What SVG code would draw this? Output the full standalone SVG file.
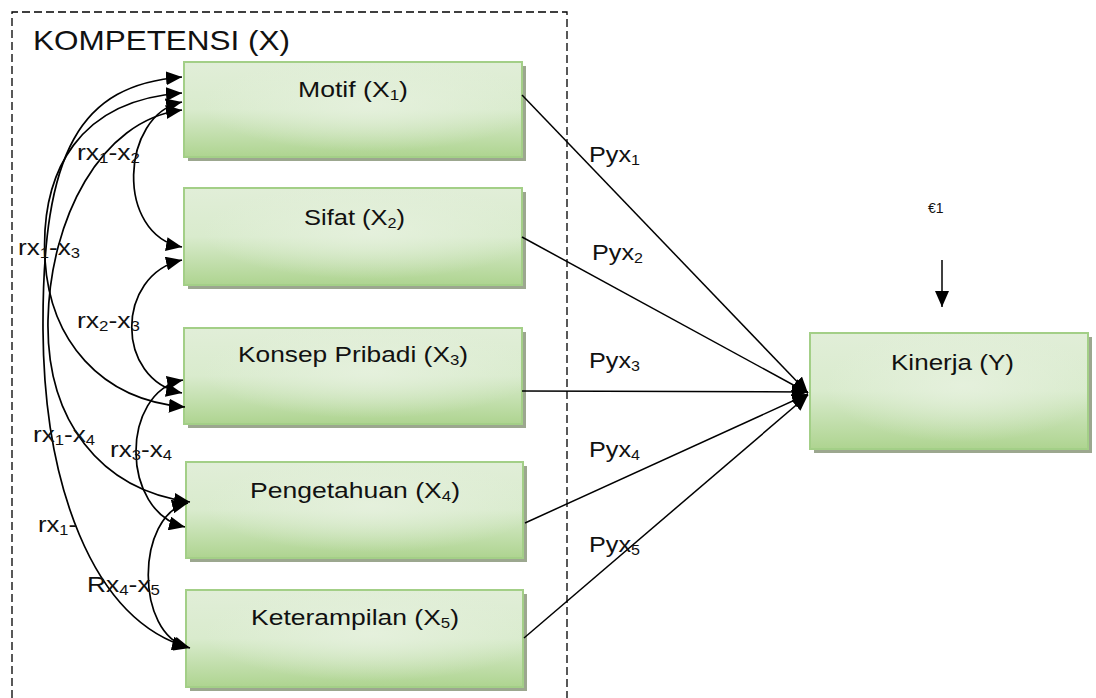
<svg xmlns="http://www.w3.org/2000/svg" width="1096" height="698" viewBox="0 0 1096 698">
<defs>
<linearGradient id="g1" x1="0" y1="0" x2="0" y2="1">
<stop offset="0" stop-color="#e1eed8"/>
<stop offset="0.5" stop-color="#d9ebcd"/>
<stop offset="1" stop-color="#aed490"/>
</linearGradient>
<radialGradient id="g2" cx="0.55" cy="0.45" r="0.5">
<stop offset="0" stop-color="#e6f1de" stop-opacity="0.9"/>
<stop offset="1" stop-color="#e6f1de" stop-opacity="0"/>
</radialGradient>
<marker id="ah" markerUnits="userSpaceOnUse" markerWidth="17" markerHeight="14" refX="16" refY="7" orient="auto-start-reverse">
<path d="M0,0 L16,7 L0,14 z" fill="#000"/>
</marker>
<style>
.sh{fill:#9ca78f}
.bx{fill:url(#g1);stroke:#a3cf87;stroke-width:2}
.hl{fill:url(#g2)}
.t{font-family:"Liberation Sans",Arial,sans-serif;font-size:22px;fill:#111}
.s{font-size:14px}
.c{fill:none;stroke:#000;stroke-width:1.7;marker-start:url(#ah);marker-end:url(#ah)}
.p{fill:none;stroke:#000;stroke-width:1.5;marker-end:url(#ah)}
</style>
</defs>
<rect width="1096" height="698" fill="#fff"/>
<path d="M12,698 V12 H567 V698" fill="none" stroke="#000" stroke-width="1.3" stroke-dasharray="8,4"/>
<text class="t" x="33" y="50" style="font-size:28px" textLength="257" lengthAdjust="spacingAndGlyphs">KOMPETENSI (X)</text>

<g id="x1">
<rect class="sh" x="188" y="66" width="338" height="95"/>
<rect class="bx" x="184" y="62" width="338" height="95"/>
<rect class="hl" x="185" y="63" width="336" height="93"/>
<text class="t" x="298" y="97" textLength="110" lengthAdjust="spacingAndGlyphs">Motif (X<tspan class="s" dy="3">1</tspan><tspan dy="-3">)</tspan></text>
</g>
<g id="x2">
<rect class="sh" x="188" y="192" width="338" height="97"/>
<rect class="bx" x="184" y="188" width="338" height="97"/>
<rect class="hl" x="185" y="189" width="336" height="95"/>
<text class="t" x="304" y="225" textLength="101" lengthAdjust="spacingAndGlyphs">Sifat (X<tspan class="s" dy="3">2</tspan><tspan dy="-3">)</tspan></text>
</g>
<g id="x3">
<rect class="sh" x="188" y="332" width="338" height="96"/>
<rect class="bx" x="184" y="328" width="338" height="96"/>
<rect class="hl" x="185" y="329" width="336" height="94"/>
<text class="t" x="238" y="362" textLength="230" lengthAdjust="spacingAndGlyphs">Konsep Pribadi (X<tspan class="s" dy="3">3</tspan><tspan dy="-3">)</tspan></text>
</g>
<g id="x4">
<rect class="sh" x="190" y="466" width="337" height="96"/>
<rect class="bx" x="186" y="462" width="337" height="96"/>
<rect class="hl" x="187" y="463" width="335" height="94"/>
<text class="t" x="250" y="498" textLength="210" lengthAdjust="spacingAndGlyphs">Pengetahuan (X<tspan class="s" dy="3">4</tspan><tspan dy="-3">)</tspan></text>
</g>
<g id="x5">
<rect class="sh" x="190" y="594" width="337" height="97"/>
<rect class="bx" x="186" y="590" width="337" height="97"/>
<rect class="hl" x="187" y="591" width="335" height="95"/>
<text class="t" x="251" y="625" textLength="208" lengthAdjust="spacingAndGlyphs">Keterampilan (X<tspan class="s" dy="3">5</tspan><tspan dy="-3">)</tspan></text>
</g>
<g id="y">
<rect class="sh" x="814" y="337" width="278" height="116"/>
<rect class="bx" x="810" y="333" width="278" height="116"/>
<rect class="hl" x="811" y="334" width="276" height="114"/>
<text class="t" x="891" y="370" textLength="123" lengthAdjust="spacingAndGlyphs">Kinerja (Y)</text>
</g>
<g id="e1">
<text class="t" x="928" y="213" style="font-size:14px">€1</text>
</g>

<g id="connectors">
<path class="c" d="M182,102 C120,115 115,235 182,247"/>
<path class="c" d="M182,260 C115,275 115,380 182,393"/>
<path class="c" d="M183,380 C120,392 120,512 185,527"/>
<path class="c" d="M188,503 C135,515 135,635 188,647"/>
<path class="c" d="M182,93 C80,100 40,170 45,260 C50,340 100,400 185,407"/>
<path class="c" d="M182,110 C100,120 50,220 48,320 C46,420 100,490 190,502"/>
<path class="c" d="M182,77 C80,85 42,150 43,330 C44,480 90,620 190,648"/>
<path class="p" d="M522,95 L808,393"/>
<path class="p" d="M522,237 L808,393"/>
<path class="p" d="M522,391 L808,392"/>
<path class="p" d="M525,523 L808,394"/>
<path class="p" d="M524,638 L808,395"/>
<path class="p" d="M942,260 L942,307"/>
</g>

<g id="labels">
<text class="t" x="77" y="160" textLength="63" lengthAdjust="spacingAndGlyphs">rx<tspan class="s" dy="3">1</tspan><tspan dy="-3">-x</tspan><tspan class="s" dy="3">2</tspan></text>
<text class="t" x="18" y="255" textLength="62" lengthAdjust="spacingAndGlyphs">rx<tspan class="s" dy="3">1</tspan><tspan dy="-3">-x</tspan><tspan class="s" dy="3">3</tspan></text>
<text class="t" x="77" y="328" textLength="63" lengthAdjust="spacingAndGlyphs">rx<tspan class="s" dy="3">2</tspan><tspan dy="-3">-x</tspan><tspan class="s" dy="3">3</tspan></text>
<text class="t" x="33" y="442" textLength="62" lengthAdjust="spacingAndGlyphs">rx<tspan class="s" dy="3">1</tspan><tspan dy="-3">-x</tspan><tspan class="s" dy="3">4</tspan></text>
<text class="t" x="110" y="457" textLength="62" lengthAdjust="spacingAndGlyphs">rx<tspan class="s" dy="3">3</tspan><tspan dy="-3">-x</tspan><tspan class="s" dy="3">4</tspan></text>
<text class="t" x="38" y="532" textLength="39" lengthAdjust="spacingAndGlyphs">rx<tspan class="s" dy="3">1</tspan><tspan dy="-3">-</tspan></text>
<text class="t" x="87" y="592" textLength="73" lengthAdjust="spacingAndGlyphs">Rx<tspan class="s" dy="3">4</tspan><tspan dy="-3">-x</tspan><tspan class="s" dy="3">5</tspan></text>
<text class="t" x="589" y="162" textLength="51" lengthAdjust="spacingAndGlyphs">Pyx<tspan class="s" dy="3">1</tspan></text>
<text class="t" x="592" y="260" textLength="51" lengthAdjust="spacingAndGlyphs">Pyx<tspan class="s" dy="3">2</tspan></text>
<text class="t" x="589" y="368" textLength="51" lengthAdjust="spacingAndGlyphs">Pyx<tspan class="s" dy="3">3</tspan></text>
<text class="t" x="589" y="457" textLength="51" lengthAdjust="spacingAndGlyphs">Pyx<tspan class="s" dy="3">4</tspan></text>
<text class="t" x="589" y="552" textLength="51" lengthAdjust="spacingAndGlyphs">Pyx<tspan class="s" dy="3">5</tspan></text>
</g>
</svg>
